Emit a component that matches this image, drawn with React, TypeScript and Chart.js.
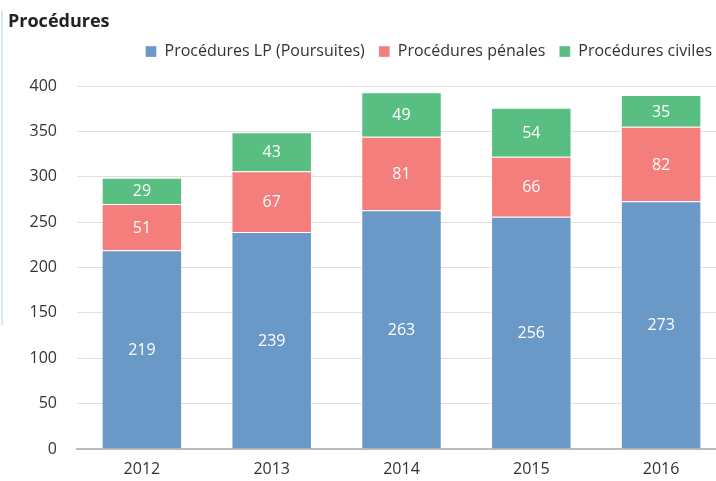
import React, { useEffect, useRef } from "react";
import { Chart, registerables } from "chart.js";

Chart.register(...registerables);

const categories = ["2012", "2013", "2014", "2015", "2016"];
const lpValues = [219, 239, 263, 256, 273];
const penalValues = [51, 67, 81, 66, 82];
const civilValues = [29, 43, 49, 54, 35];
const seriesNames = ["Procédures LP (Poursuites)", "Procédures pénales", "Procédures civiles"];
const yTicks = [0, 50, 100, 150, 200, 250, 300, 350, 400];

const FONT = "'Open Sans', 'DejaVu Sans', sans-serif";

const labelPlugin = {
  id: "barLabels",
  beforeInit(chart: any) {
    const legend = chart.legend;
    if (legend) {
      const orig = legend.fit.bind(legend);
      legend.fit = function () {
        orig();
        this.height = 56.4;
      };
    }
  },
  afterDatasetsDraw(chart: any) {
    const ctx = chart.ctx;
    ctx.save();
    ctx.fillStyle = "#ffffff";
    ctx.font = `16px ${FONT}`;
    ctx.textAlign = "center";
    ctx.textBaseline = "middle";
    chart.data.datasets.forEach((ds: any, i: number) => {
      const meta = chart.getDatasetMeta(i);
      meta.data.forEach((el: any, j: number) => {
        const p = el.getCenterPoint();
        ctx.fillText(String(ds.data[j]), p.x, p.y + 1);
      });
    });
    ctx.restore();
  },
};

export default function App() {
  const ref = useRef<HTMLCanvasElement>(null);
  useEffect(() => {
    document.body.style.margin = "0";
    document.body.style.overflow = "hidden";
    const chart = new Chart(ref.current!, {
      type: "bar",
      data: {
        labels: categories,
        datasets: [
          { label: seriesNames[0], data: lpValues, backgroundColor: "rgb(106,152,199)", borderColor: "rgba(255,255,255,0.35)", borderWidth: 1 },
          { label: seriesNames[1], data: penalValues, backgroundColor: "rgb(244,126,124)", borderColor: "rgba(255,255,255,0.35)", borderWidth: 1 },
          { label: seriesNames[2], data: civilValues, backgroundColor: "rgb(88,190,129)", borderColor: "rgba(255,255,255,0.35)", borderWidth: 1 },
        ],
      },
      options: {
        animation: false,
        responsive: false,
        layout: { padding: { left: 8, right: 0, top: 11, bottom: 0 } },
        datasets: { bar: { categoryPercentage: 1, barPercentage: 0.62 } },
        plugins: {
          tooltip: { enabled: false },
          title: {
            display: true,
            text: "Procédures",
            align: "start",
            color: "#222",
            font: { family: FONT, size: 18, weight: "bold" },
            padding: { top: 0, bottom: -3 },
          },
          legend: {
            position: "top",
            align: "end",
            labels: {
              boxWidth: 11,
              boxHeight: 11,
              color: "#333",
              font: { family: FONT, size: 16 },
              padding: 14,
            },
          },
        },
        scales: {
          x: {
            stacked: true,
            afterFit(scale: any) {
              scale.height = 32;
            },
            grid: { display: false, drawTicks: false },
            border: { color: "#bbbbbb", width: 2 },
            ticks: { color: "#333", font: { family: FONT, size: 16 }, padding: 11 },
          },
          y: {
            stacked: true,
            min: 0,
            max: 400,
            z: 1,
            afterFit(scale: any) {
              scale.width = 69;
            },
            afterBuildTicks(scale: any) {
              scale.ticks = yTicks.map((v) => ({ value: v }));
            },
            grid: { color: "rgba(0,0,0,0.12)", drawTicks: false, lineWidth: 1 },
            border: { display: false },
            ticks: { color: "#333", font: { family: FONT, size: 16 }, padding: 20 },
          },
        },
      },
      plugins: [labelPlugin],
    } as any);
    return () => chart.destroy();
  }, []);
  return (
    <div style={{ position: "relative", width: 726, height: 481 }}>
      <div style={{ position: "absolute", left: 1, top: 10, width: 2, height: 315, background: "#d9e7f3" }} />
      <canvas ref={ref} width={726} height={481} style={{ position: "absolute", left: 0, top: 0 }} />
    </div>
  );
}
